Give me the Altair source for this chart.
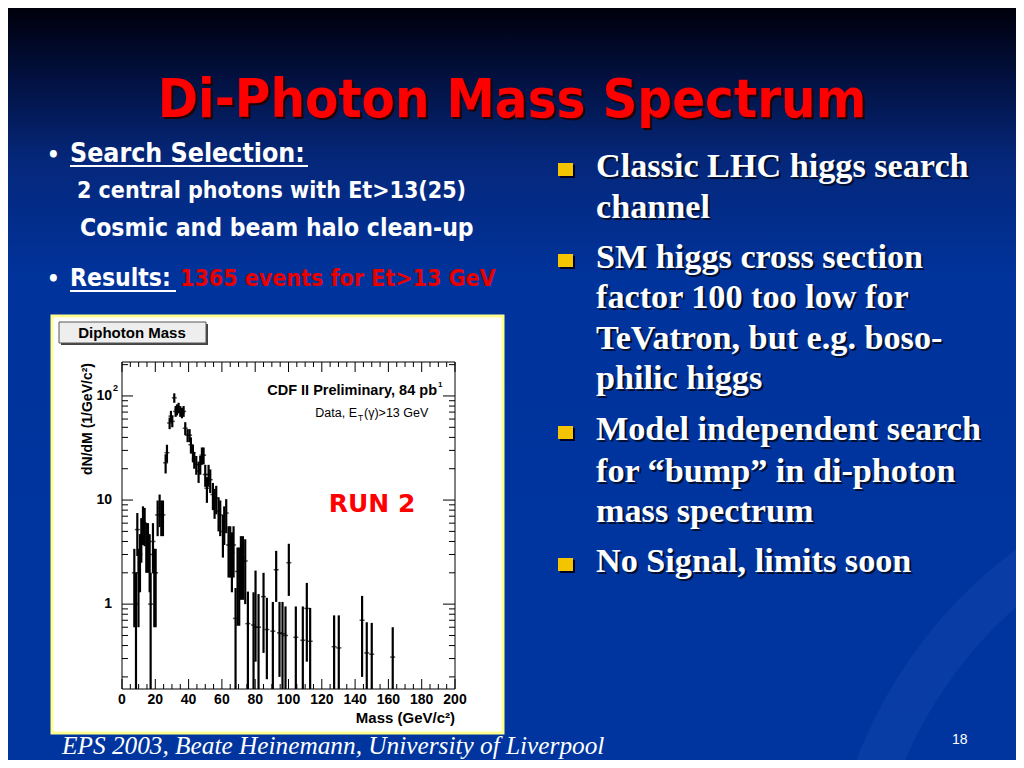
import altair as alt
import pandas as pd

# ---------------- data ----------------
mass = [7.4, 8.4, 9.2, 9.9, 10.8, 11.6, 12.6, 13.6, 14.6, 15.6, 16.6, 17.2, 18.6, 19.4, 20.2,
        21.4, 22.6, 23.6, 24.6, 26.2, 27.0, 28.6, 29.4, 30.2, 31.4, 32.2, 33.0, 34.0, 35.0, 36.0,
        37.0, 38.0, 39.4, 40.6, 41.4, 42.6, 43.4, 44.6, 46.0, 47.0, 48.0, 49.0, 50.0, 51.0, 52.0,
        53.0, 54.6, 55.6, 56.6, 58.0, 59.0, 60.6, 61.4, 62.6, 64.0, 65.0, 66.0, 67.0, 68.2, 69.4,
        70.4, 71.4, 72.6, 74.0, 75.6, 79.0, 80.2, 82.0, 85.0, 87.0, 90.6, 92.6, 94.6, 96.4, 98.2,
        100.2, 104.4, 108.6, 111.0, 113.0, 127.4, 130.2, 144.2, 147.0, 150.0, 162.6]
val = [2.0, 1.0, 5.2, 2.0, 3.0, 4.6, 6.2, 6.0, 4.0, 4.0, 3.0, 1.0, 4.0, 2.0, 2.0,
       7.2, 8.4, 7.2, 7.2, 22.8, 28.5, 55, 64, 57, 96, 71, 74, 77, 71, 69,
       71, 49, 42, 42, 34, 28.5, 24.5, 22, 19, 22, 27, 27, 17.6, 13, 17.6,
       15.7, 11.3, 9.7, 10.5, 7.8, 7.2, 5.0, 6.2, 7.5, 3.7, 3.7, 3.1, 3.7, 0.73, 2.06,
       2.06, 2.8, 2.8, 2.6, 0.65, 0.63, 0.6, 0.6, 1.18, 0.57, 0.55, 2.14, 0.53, 0.52, 0.5,
       2.5, 0.48, 0.45, 0.91, 0.44, 0.39, 0.38, 0.7, 0.34, 0.33, 0.31]
lo = [0.6, 0.1, 2.9, 0.6, 1.3, 2.5, 3.7, 3.6, 2.0, 2.0, 1.3, 0.1, 2.0, 0.6, 0.6,
      4.5, 5.5, 4.5, 4.5, 18, 23, 48, 56, 50, 86, 63, 65, 68, 63, 61,
      63, 42, 36, 36, 28, 23, 20, 17.5, 14.6, 17.5, 22, 22, 13.4, 9.4, 13.4,
      11.7, 8.0, 6.6, 7.3, 5.0, 4.5, 2.8, 3.7, 4.8, 1.8, 1.8, 1.3, 1.8, 0.1, 0.62,
      0.62, 1.1, 1.1, 1.0, 0.1, 0.1, 0.28, 0.1, 0.34, 0.19, 0.15, 1.05, 0.2, 0.1, 0.1,
      1.2, 0.1, 0.13, 0.28, 0.1, 0.1, 0.1, 0.2, 0.1, 0.1, 0.1]
hi = [3.4, 2.0, 7.5, 3.4, 4.7, 6.7, 8.7, 8.4, 6.0, 6.0, 4.7, 2.0, 6.0, 3.4, 3.4,
      9.9, 11.3, 9.9, 9.9, 27.5, 34, 62, 72, 65, 106, 80, 83, 86, 80, 77,
      80, 56, 48, 48, 40, 34, 29, 26.5, 23.4, 26.5, 32, 32, 21.8, 16.6, 21.8,
      19.7, 14.6, 12.8, 13.7, 10.6, 9.9, 7.2, 8.7, 10.2, 5.6, 5.6, 4.9, 5.6, 1.43, 3.5,
      3.5, 4.5, 4.5, 4.2, 1.32, 1.3, 2.1, 1.25, 2.0, 1.15, 1.05, 3.25, 1.05, 1.05, 0.95,
      3.8, 0.95, 0.95, 1.6, 0.92, 0.78, 0.78, 1.2, 0.67, 0.66, 0.6]

x_major = list(range(0, 201, 20))
x_minor = [v for v in range(0, 201, 5) if v % 20]
x_labels = [str(v) for v in x_major]
y_major = [1, 10, 100]
y_labels = ["1", "10", "10"]          # the 100 label is drawn as 10 with a superscript 2
y_minor = [0.2, 0.3, 0.4, 0.5, 0.6, 0.7, 0.8, 0.9, 2, 3, 4, 5, 6, 7, 8, 9,
           20, 30, 40, 50, 60, 70, 80, 90, 200]

title_text = "Di-Photon Mass Spectrum"
left_lines = ["Search Selection:", "2 central photons with Et>13(25)",
              "Cosmic and beam halo clean-up", "Results:", "1365 events for Et>13 GeV"]
right_lines = ["Classic LHC higgs search", "channel", "SM higgs cross section",
               "factor 100 too low for", "TeVatron, but e.g. boso-", "philic higgs",
               "Model independent search", "for \u201cbump\u201d in di-photon",
               "mass spectrum", "No Signal, limits soon"]
footer_text = "EPS 2003, Beate Heinemann, University of Liverpool"
page_no = "18"
x_title = "Mass (GeV/c\u00b2)"
y_title = "dN/dM (1/GeV/c\u00b2)"

# ---------------- layout (page pixels) ----------------
X0, Y0, W, H = 122, 362, 333, 327
one = alt.Data(values=[{"k": 0}])


def px(x):
    return x - X0


def py(y):
    return y - Y0


def T(s, x, y, size, color="white", font="DejaVu Sans", weight="normal",
      style="normal", align="left", baseline="alphabetic", angle=0):
    return alt.Chart(one).mark_text(
        text=s, fontSize=size, font=font, fontWeight=weight, fontStyle=style,
        align=align, baseline=baseline, color=color, angle=angle
    ).encode(x=alt.value(px(x)), y=alt.value(py(y)))


def R(x1, y1, x2, y2, **kw):
    return alt.Chart(one).mark_rect(**kw).encode(
        x=alt.value(px(x1)), x2=alt.value(px(x2)),
        y=alt.value(py(y1)), y2=alt.value(py(y2)))


def L(x1, y1, x2, y2, color="white", width=2):
    return alt.Chart(one).mark_rule(color=color, strokeWidth=width).encode(
        x=alt.value(px(x1)), x2=alt.value(px(x2)),
        y=alt.value(py(y1)), y2=alt.value(py(y2)))


def SW(cx, cy, r1, r2, t1, t2, opacity):
    # faint decorative swoosh of the slide background
    return alt.Chart(one).mark_arc(color="#5a8ae0", opacity=opacity).encode(
        x=alt.value(px(cx)), y=alt.value(py(cy)),
        radius=alt.value(r1), radius2=alt.value(r2),
        theta=alt.value(t1), theta2=alt.value(t2))


layers = []

# background gradient
layers.append(R(8, 8, 1016, 760, fill=alt.Gradient(
    gradient="linear", x1=0, x2=0, y1=0, y2=1,
    stops=[alt.GradientStop(color="#00000c", offset=0),
           alt.GradientStop(color="#02103e", offset=0.09),
           alt.GradientStop(color="#05277a", offset=0.2),
           alt.GradientStop(color="#00339c", offset=0.36),
           alt.GradientStop(color="#0035a0", offset=1)])))

# background swooshes (bottom right)
layers.append(SW(1300, 930, 430, 475, 4.9, 5.75, 0.10))
layers.append(SW(1250, 1000, 300, 330, 4.9, 5.9, 0.08))

# title with shadow
TF = "DejaVu Sans Condensed"
layers.append(T(title_text, 514, 119, 54, color="#200000", font=TF, weight="bold", align="center"))
layers.append(T(title_text, 512, 117, 54, color="#ff0000", font=TF, weight="bold", align="center"))

# left column
LF = "DejaVu Sans Condensed"
layers.append(T("\u2022", 47, 162, 22, font=LF, weight="bold"))
layers.append(T(left_lines[0], 70, 162, 26.5, font=LF, weight="bold"))
layers.append(L(70, 166, 308, 166, width=2))
layers.append(T(left_lines[1], 77, 198, 23, font=LF, weight="bold"))
layers.append(T(left_lines[2], 80, 236, 24.5, font=LF, weight="bold"))
layers.append(T("\u2022", 47, 286, 22, font=LF, weight="bold"))
layers.append(T(left_lines[3], 70, 286, 24.5, font=LF, weight="bold"))
layers.append(L(70, 291, 176, 291, width=2))
layers.append(T(left_lines[4], 180, 286, 23, font=LF, weight="bold", color="#e60000"))

# right column
RF = "Liberation Serif"
baselines = [177, 218, 268, 308, 349, 389, 440, 482, 522, 572]
bullets_at = [0, 2, 6, 9]
for i, (s, b) in enumerate(zip(right_lines, baselines)):
    if i in bullets_at:
        layers.append(R(560, b - 12, 575, b + 1, fill="#000022"))
        layers.append(R(558, b - 14, 573, b - 1, fill="#f5c400"))
    layers.append(T(s, 598, b + 2, 34.2, font=RF, weight="bold", color="#00102e"))
    layers.append(T(s, 596, b, 34.2, font=RF, weight="bold"))

# footer
layers.append(T(footer_text, 62, 754, 25.3, font=RF, style="italic"))
layers.append(T(page_no, 952, 744, 14, font="Liberation Sans"))

# plot panel
layers.append(R(52, 316, 503, 733, fill="white", stroke="#ffff90", strokeWidth=3))
layers.append(R(61, 324, 208, 345, fill="#444444"))
layers.append(R(59, 322, 206, 343, fill="#eeeeee", stroke="#555555", strokeWidth=1))
layers.append(T("Diphoton Mass", 132, 338, 15, color="black", font="Liberation Sans",
                weight="bold", align="center"))

# plot-area texts
layers.append(T("CDF II Preliminary, 84 pb", 437, 395, 14.5, color="black",
                font="Liberation Sans", weight="bold", align="right"))
layers.append(T("1", 438, 387, 8, color="black", font="Liberation Sans", weight="bold"))
layers.append(T("Data, E", 357, 417, 12.5, color="black", font="Liberation Sans", align="right"))
layers.append(T("T", 358, 421, 8.5, color="black", font="Liberation Sans"))
layers.append(T("(\u03b3)>13 GeV", 364, 417, 12.5, color="black", font="Liberation Sans"))
layers.append(T("RUN 2", 372, 512, 25, color="#ff0000", font="DejaVu Sans",
                weight="bold", align="center"))

# axis titles
layers.append(T(x_title, 455, 723, 15, color="black", font="Liberation Sans",
                weight="bold", align="right"))
layers.append(T(y_title, 92, 363, 14, color="black", font="Liberation Sans",
                weight="bold", align="right", angle=270))

# scales
xs = alt.Scale(domain=[0, 200], nice=False, zero=False)
ys = alt.Scale(type="log", domain=[0.153, 212], nice=False)

# frame
layers.append(alt.Chart(one).mark_rect(fillOpacity=0, stroke="black", strokeWidth=1).encode(
    x=alt.value(0), x2=alt.value(W), y=alt.value(0), y2=alt.value(H)))

# inward tick marks
xmaj = pd.DataFrame({"t": x_major, "lab": x_labels})
xmin = pd.DataFrame({"t": x_minor})
ymaj = pd.DataFrame({"t": y_major, "lab": y_labels})
ymin = pd.DataFrame({"t": y_minor})


def xt(df, y1, y2):
    return alt.Chart(df).mark_rule(color="black", strokeWidth=1).encode(
        x=alt.X("t:Q", scale=xs, axis=None), y=alt.value(y1), y2=alt.value(y2))


def yt(df, x1, x2):
    return alt.Chart(df).mark_rule(color="black", strokeWidth=1).encode(
        y=alt.Y("t:Q", scale=ys, axis=None), x=alt.value(x1), x2=alt.value(x2))


layers += [xt(xmaj, H, H - 10), xt(xmaj, 0, 10), xt(xmin, H, H - 5), xt(xmin, 0, 5),
           yt(ymaj, 0, 11), yt(ymaj, W, W - 12), yt(ymin, 0, 6), yt(ymin, W, W - 6)]

# tick labels through the scales
layers.append(alt.Chart(xmaj).mark_text(
    font="Liberation Sans", fontWeight="bold", fontSize=14, color="black",
    baseline="top", align="center").encode(
    x=alt.X("t:Q", scale=xs, axis=None), y=alt.value(H + 4), text="lab:N"))
layers.append(alt.Chart(ymaj).mark_text(
    font="Liberation Sans", fontWeight="bold", fontSize=14, color="black",
    baseline="middle", align="right").encode(
    y=alt.Y("t:Q", scale=ys, axis=None), x=alt.value(-10), text="lab:N"))
layers.append(alt.Chart(pd.DataFrame({"t": [100], "lab": ["2"]})).mark_text(
    font="Liberation Sans", fontWeight="bold", fontSize=9, color="black",
    baseline="middle", align="left", dx=0, dy=-8).encode(
    y=alt.Y("t:Q", scale=ys, axis=None), x=alt.value(-9), text="lab:N"))

data = pd.DataFrame({"mass": mass, "val": val, "lo": lo, "hi": hi})

err = alt.Chart(data).mark_rule(color="black", strokeWidth=2.2, clip=True).encode(
    x=alt.X("mass:Q", scale=xs, axis=None),
    y=alt.Y("lo:Q", scale=ys, axis=None),
    y2="hi:Q")
pts = alt.Chart(data).mark_tick(orient="horizontal", color="black", size=5,
                                thickness=1.5).encode(
    x=alt.X("mass:Q", scale=xs, axis=None),
    y=alt.Y("val:Q", scale=ys, axis=None))
layers += [err, pts]

chart = alt.layer(*layers).properties(
    width=W, height=H,
    padding={"left": X0 - 8, "top": Y0 - 8, "right": 1016 - (X0 + W), "bottom": 760 - (Y0 + H)},
    autosize=alt.AutoSizeParams(type="none"),
    background="#0035a0",
).configure_view(stroke=None)

chart.save("out.html", embed_options={"renderer": "svg", "actions": False})
